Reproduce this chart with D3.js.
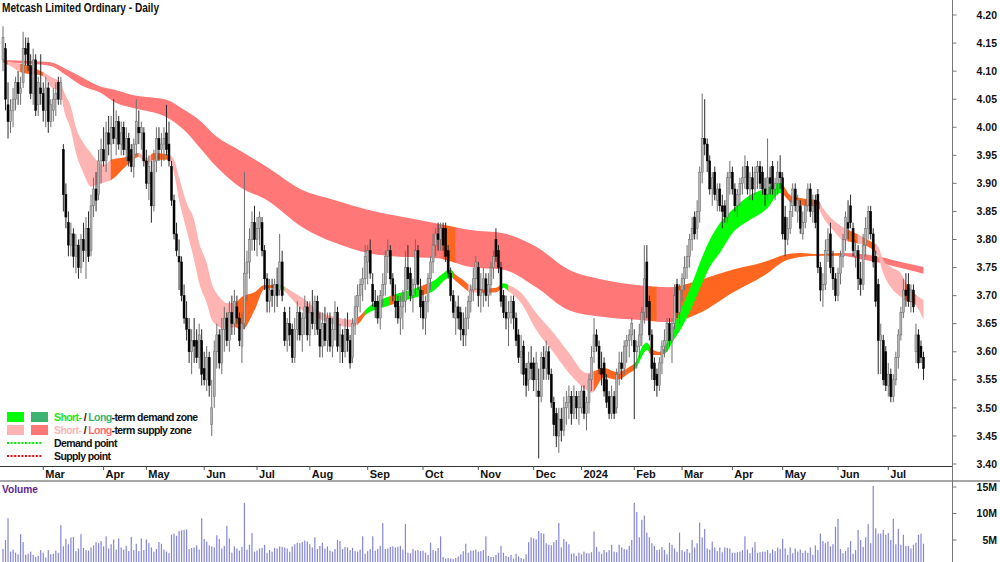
<!DOCTYPE html>
<html>
<head>
<meta charset="utf-8">
<script src="https://cdn.jsdelivr.net/npm/d3@7"></script>
<style>
  body { margin: 0; background: #fff; }
  svg { display: block; font-family: "Liberation Sans", Arial, sans-serif; font-weight: bold; }
</style>
</head>
<body>
<svg id="chart"></svg>
<script>
// prices in cents, one entry per trading day (Feb 2023 - Jul 2024)
const opens = [
  412,414,404,401,403,405,408,406,408,414, 415,411,406,412,404,407,406,403,407,401,
  403,405,408,405,396,388,383,379,381,377, 379,375,380,378,382,378,386,389,388,394,
  396,394,399,397,400,398,401,397,400,396, 398,396,393,397,400,399,399,394,390,392,
  386,394,398,396,397,399,397,393,387,381, 377,376,370,366,364,360,362,362,359,362,
  357,355,359,347,352,360,363,358,364,366, 362,367,365,368,366,361,365,374,376,380,
  383,380,382,383,378,373,369,371,370,372, 371,376,367,362,365,364,359,364,367,363,
  366,368,363,367,365,369,364,361,365,362, 366,361,364,367,361,363,360,364,362,359,
  365,368,370,372,373,376,378,372,369,369, 366,370,372,377,378,373,369,369,366,368,
  369,375,374,370,372,378,371,369,366,369, 373,376,379,381,380,382,382,378,374,370,
  366,368,367,364,363,366,369,371,373,375, 370,371,373,370,372,375,380,378,375,370,
  367,366,367,369,366,363,359,361,357,355, 358,358,355,353,352,359,357,360,356,351,
  349,345,348,346,350,351,352,349,352,350, 350,353,349,351,355,360,363,361,357,358,
  355,352,349,352,350,356,358,357,361,362, 363,362,360,361,363,367,376,369,363,358,
  356,354,358,361,362,365,362,365,372,367, 371,373,375,377,380,384,382,385,392,398,
  397,394,389,392,387,389,386,386,384,391, 392,389,386,388,390,391,393,389,391,389,
  392,393,392,389,388,391,393,389,390,392, 391,384,380,382,386,389,385,386,381,383,
  386,389,385,387,388,375,371,372,378,381, 375,373,370,374,377,380,383,386,382,377,
  378,373,372,379,382,385,381,377,372,362, 362,360,354,356,352,355,359,363,367,371,
  372,369,371,360,363,361,359
];
const highs = [
  418,415,408,405,407,409,410,409,417,416, 416,413,414,413,409,413,408,409,408,405,
  407,408,409,409,397,390,385,383,382,381, 380,381,383,384,385,388,391,392,396,398,
  400,401,402,402,405,403,402,401,401,400, 399,397,398,405,403,401,400,396,395,394,
  396,400,400,399,400,404,401,394,388,383, 380,377,372,369,366,364,366,364,365,364,
  360,361,360,355,362,365,364,366,368,367, 369,370,371,370,367,367,392,378,382,385,
  386,384,385,384,379,374,373,373,373,375, 381,378,368,366,368,365,366,369,368,367,
  370,369,369,371,370,370,367,367,368,367, 367,366,369,368,365,364,366,367,363,366,
  370,372,373,375,379,379,380,374,371,370, 371,374,378,380,379,374,372,370,370,371,
  378,379,375,373,380,379,373,371,370,374, 377,381,382,383,383,383,383,379,375,371,
  369,370,368,367,368,370,372,375,377,376, 374,375,374,374,376,378,382,379,376,371,
  370,369,370,370,367,364,363,362,358,360, 361,359,360,357,360,361,362,361,357,352,
  350,350,350,352,353,354,353,354,353,353, 354,354,352,356,361,366,364,362,360,359,
  356,353,354,353,357,360,360,362,363,364, 366,364,362,365,368,379,379,370,364,359,
  357,359,362,364,366,366,366,372,373,372, 374,377,379,381,384,385,387,393,406,405,
  398,395,392,393,390,390,388,387,392,394, 393,390,389,391,393,395,394,392,393,393,
  394,394,393,391,398,393,394,391,394,395, 392,386,384,387,390,390,388,387,385,387,
  390,390,388,388,389,376,374,380,382,383, 378,374,375,378,381,385,387,388,383,380,
  379,376,381,384,386,386,382,378,373,365, 363,361,358,357,356,360,364,368,373,374,
  374,372,372,365,364,362,360
];
const lows = [
  410,403,398,399,400,403,404,404,407,411, 410,405,404,402,402,404,401,400,399,400,
  401,402,404,404,385,382,377,377,375,374, 373,374,376,373,376,377,384,385,387,390,
  393,392,395,394,397,395,396,395,395,394, 393,392,391,395,397,396,393,389,387,383,
  385,392,394,393,394,395,393,386,380,377, 371,369,365,362,358,356,358,358,357,354,
  354,353,352,345,350,357,357,356,360,361, 360,363,363,365,361,358,364,369,373,378,
  378,377,379,377,371,367,367,368,367,368, 370,369,361,360,361,358,358,362,362,360,
  363,362,361,364,363,363,359,359,361,360, 360,359,362,360,358,358,359,360,357,358,
  363,366,367,369,371,372,373,368,366,365, 364,368,370,374,372,369,366,365,363,364,
  367,371,369,367,370,371,366,364,363,367, 371,374,377,378,378,378,376,373,369,366,
  363,364,362,361,361,364,367,369,371,368, 367,368,369,368,370,373,376,374,368,366,
  364,361,365,364,361,358,356,354,352,353, 355,353,352,341,351,355,355,355,350,345,
  343,342,344,345,347,348,347,348,348,347, 349,348,346,349,353,358,360,356,354,352,
  350,348,348,348,349,354,355,356,358,359, 361,348,357,359,361,365,366,362,355,353,
  352,353,356,359,360,361,358,364,366,365, 369,371,373,375,378,380,380,383,390,395,
  392,388,386,387,385,385,382,383,383,388, 388,385,384,386,388,389,388,387,387,388,
  389,389,388,386,387,388,388,387,388,389, 380,377,379,381,384,385,383,381,380,382,
  385,384,383,382,374,369,368,371,376,374, 371,369,369,372,375,378,380,382,377,375,
  371,370,371,377,380,380,375,368,356,356, 354,353,352,351,351,354,357,362,366,368,
  368,367,367,358,357,358,355
];
const closes = [
  416,405,401,403,405,408,406,407,414,413, 411,406,412,403,408,406,403,407,401,404,
  405,406,405,408,388,384,379,381,377,379, 375,380,378,382,377,386,389,387,394,396,
  394,399,397,400,398,401,397,399,396,398, 394,393,397,401,399,400,394,390,393,386,
  394,398,396,397,398,396,394,387,381,378, 376,370,366,364,360,362,361,359,363,356,
  355,359,354,350,360,363,358,364,366,362, 367,365,369,366,362,365,374,376,380,383,
  380,382,384,378,373,369,371,370,372,370, 376,370,362,365,363,359,364,367,363,366,
  368,363,367,365,369,364,361,365,362,366, 361,364,367,361,363,360,364,362,358,365,
  368,370,372,373,377,378,374,369,368,366, 370,372,377,378,373,370,368,366,368,369,
  375,373,370,372,378,372,368,366,369,373, 376,379,381,380,382,379,377,374,370,367,
  368,366,364,363,366,369,371,373,376,370, 371,373,370,372,375,377,377,375,369,367,
  366,367,369,366,362,359,360,356,354,358, 357,355,358,352,359,357,360,356,351,347,
  345,348,346,350,351,352,349,352,350,352, 353,349,351,355,359,363,361,357,356,353,
  351,349,352,349,356,358,357,361,362,363, 365,360,361,363,367,373,368,363,357,355,
  354,358,361,362,365,362,365,370,367,371, 373,375,377,380,382,381,385,392,398,397,
  394,389,391,388,389,386,385,384,391,392, 389,386,388,390,391,393,389,391,389,392,
  393,390,389,388,391,390,389,390,392,391, 381,380,382,385,389,386,387,382,383,386,
  389,385,386,383,375,371,372,378,380,375, 373,370,374,377,380,384,382,383,378,378,
  373,372,379,382,385,381,376,369,362,363, 355,354,356,352,355,359,363,367,371,370,
  369,371,368,363,358,359,357
];
// volume in millions of shares
const volumes = [
  3.3,5.0,9.1,2.8,3.2,2.6,2.3,6.1,4.6,2.2, 2.4,2.8,2.2,1.8,2.0,3.1,2.6,1.7,3.1,2.3,
  2.4,3.0,2.6,7.8,3.8,5.2,4.2,5.5,5.6,2.9, 3.4,6.1,3.5,3.1,3.0,3.6,4.0,4.6,4.4,4.8,
  3.8,5.7,3.4,4.2,5.1,3.2,5.3,3.6,3.2,3.9, 2.9,5.6,3.1,4.3,2.9,5.3,3.1,5.1,4.4,3.6,
  2.8,3.3,4.6,4.3,3.2,2.8,2.5,6.0,6.2,5.8, 6.7,6.8,6.9,7.0,3.3,3.5,3.6,4.0,3.2,9.1,
  5.2,4.7,4.0,3.8,3.6,5.9,5.2,3.4,3.9,7.7, 5.3,2.6,3.8,3.4,3.0,3.7,12.0,3.2,4.1,6.3,
  2.8,3.0,3.4,3.5,4.1,2.6,3.1,2.8,3.5,3.4, 3.8,3.7,3.6,3.4,2.8,3.8,4.2,4.5,4.4,4.6,
  4.9,4.7,4.2,3.6,5.5,3.3,3.9,4.5,3.4,3.8, 3.0,2.8,3.3,5.0,4.8,3.3,3.7,3.6,3.1,3.5,
  2.9,2.8,3.2,5.7,2.4,2.9,3.3,5.7,3.0,3.3, 3.9,8.2,3.3,3.4,3.7,3.8,3.6,3.7,3.9,3.2,
  8.0,2.6,2.5,3.3,3.0,3.1,2.9,3.0,2.6,2.2, 4.5,3.1,2.9,3.5,5.7,1.8,1.5,1.6,1.5,1.4,
  1.6,1.9,2.3,2.9,4.3,2.6,3.0,3.0,3.2,2.8, 2.9,3.1,5.7,2.0,1.8,1.8,2.2,2.6,3.9,2.6,
  2.0,1.8,2.2,1.5,2.4,1.9,1.6,1.4,2.3,4.6, 5.5,5.3,5.1,6.7,6.3,6.2,4.4,4.1,4.0,4.6,
  5.0,8.2,3.6,5.2,4.7,4.2,2.4,2.5,2.0,2.6, 2.3,2.8,2.5,2.5,2.7,6.6,3.7,2.8,2.4,3.1,
  2.7,3.1,4.1,2.8,2.7,4.1,3.6,3.3,3.2,3.9, 5.0,12.0,10.3,5.5,8.8,9.6,6.4,5.5,4.4,3.9,
  3.1,3.2,3.7,3.1,2.3,4.5,4.1,3.4,2.8,6.4, 3.1,2.8,3.3,2.6,5.0,3.6,4.4,8.3,5.5,7.1,
  3.4,3.2,4.7,3.6,2.9,3.6,2.7,3.6,3.5,3.4, 2.6,2.6,2.7,2.8,3.1,5.7,3.2,2.5,3.6,4.6,
  2.6,2.7,2.8,2.8,3.1,2.5,3.2,2.9,3.6,3.3, 5.2,3.4,2.2,3.6,2.5,3.4,2.8,3.2,2.6,3.0,
  2.6,3.6,2.2,4.0,3.1,6.2,4.8,4.4,4.7,3.8, 4.2,7.5,9.0,3.3,2.5,2.9,3.6,4.8,2.4,3.1,
  6.9,5.0,3.7,5.5,8.0,4.4,15.2,7.2,6.2,6.2, 6.9,6.0,6.3,5.0,9.0,4.2,7.1,4.1,6.0,3.9,
  3.9,3.4,4.1,4.5,6.0,6.2,4.3
];

// month labels and the trading-day index where each month starts
const monthLabels = ["Mar", "Apr", "May", "Jun", "Jul", "Aug", "Sep", "Oct", "Nov", "Dec",
  "2024", "Feb", "Mar", "Apr", "May", "Jun", "Jul"];
const monthIndex = [16, 40, 57, 80, 101, 122, 145, 167, 189, 211, 230, 251, 270, 290, 310, 332, 352];

const shortIdx = [
  0, 3, 7, 16, 19, 23, 24, 27, 29, 32,
  35, 37, 40, 43, 49, 54, 57, 60, 66, 68,
  70, 73, 76, 78, 81, 83, 86, 89, 92, 95,
  100, 104, 110, 114, 119, 125, 132, 139, 142, 144,
  152, 158, 165, 171, 178, 180, 183, 186, 190, 196,
  199, 201, 206, 212, 219, 225, 232, 234, 239, 244,
  249, 252, 254, 256, 258, 261, 264, 266, 270, 274,
  278, 281, 285, 290, 297, 304, 309, 313, 317, 324,
  326, 330, 334, 339, 344, 348, 350, 353, 357, 360,
  362, 366
];
const shortHi = [
  412.0, 411.6, 411.3, 409.8, 409.0, 407.9, 406.6, 403.6, 400.0, 397.2,
  395.4, 394.2, 393.3, 394.2, 394.7, 395.4, 394.5, 395.4, 395.1, 394.2,
  391.1, 386.5, 383.5, 379.4, 375.8, 372.2, 369.8, 368.7, 368.7, 369.8,
  370.6, 371.9, 371.9, 371.0, 369.6, 367.4, 366.2, 365.7, 366.4, 367.4,
  369.6, 370.5, 371.5, 372.6, 374.6, 373.7, 372.8, 371.7, 371.2, 371.4,
  372.2, 371.9, 370.5, 366.9, 363.3, 359.8, 356.2, 356.4, 357.1, 356.4,
  357.3, 358.5, 360.8, 361.6, 360.5, 360.0, 361.6, 363.9, 368.0, 372.2,
  376.9, 379.9, 382.9, 385.3, 387.9, 389.2, 390.1, 387.9, 387.4, 387.0,
  385.6, 383.5, 382.2, 381.1, 379.9, 378.7, 376.3, 375.1, 374.0, 371.4,
  370.5, 369.2
];
const shortLo = [
  411.6, 410.9, 409.8, 409.1, 407.2, 406.3, 403.6, 399.5, 395.4, 391.8,
  389.4, 389.7, 390.1, 390.6, 393.1, 394.7, 393.5, 394.2, 394.2, 391.8,
  387.0, 381.7, 376.3, 372.2, 368.7, 365.7, 364.4, 363.9, 364.4, 363.9,
  367.4, 371.2, 371.4, 369.8, 367.4, 366.0, 364.8, 364.4, 365.3, 366.5,
  368.0, 368.9, 369.8, 370.8, 373.3, 372.6, 371.5, 370.6, 370.5, 370.6,
  371.4, 370.8, 368.7, 363.9, 359.8, 356.2, 353.2, 352.7, 355.5, 355.0,
  356.2, 357.3, 359.1, 360.3, 359.4, 359.4, 360.0, 361.6, 364.4, 368.0,
  372.2, 375.1, 377.6, 381.1, 383.5, 385.6, 388.3, 386.7, 386.1, 385.8,
  384.0, 381.7, 379.9, 379.4, 378.7, 376.9, 374.0, 371.5, 369.8, 368.9,
  368.7, 365.7
];
// s = supply, d = demand, m = mixed
const shortZones = [
  [0, 2, "m"], [2, 7, "s"], [7, 16, "m"], [16, 43, "s"], [43, 54, "m"], [54, 59, "s"],
  [59, 66, "m"], [66, 92, "s"], [92, 109, "m"], [109, 112, "d"], [112, 141, "s"],
  [141, 144, "m"], [144, 154, "d"], [154, 156, "m"], [156, 166, "d"], [166, 169, "m"],
  [169, 179, "d"], [179, 185, "m"], [185, 189, "s"], [189, 198, "m"], [198, 201, "d"],
  [201, 235, "s"], [235, 251, "m"], [251, 257, "d"], [257, 263, "m"], [263, 310, "d"],
  [310, 325, "m"], [325, 336, "s"], [336, 340, "m"], [340, 342, "s"], [342, 347, "m"],
  [347, 359, "s"], [359, 363, "m"], [363, 366, "s"]
];

// long-term zone (cents)
const longIdx = [
  0, 11, 19, 25, 31, 39, 45, 52, 65, 72,
  78, 85, 94, 105, 119, 132, 145, 159, 172, 186,
  199, 212, 225, 239, 252, 265, 277, 290, 304, 310,
  317, 324, 333, 341, 349, 357, 366
];
const longHi = [
  412.0, 411.8, 411.6, 410.4, 409.0, 407.2, 406.6, 405.7, 404.9, 403.1,
  401.3, 398.3, 395.9, 392.9, 388.8, 387.0, 385.3, 384.0, 382.9, 381.7,
  381.1, 378.7, 374.6, 372.8, 371.9, 371.5, 372.8, 374.6, 376.2, 377.2,
  377.6, 377.4, 377.6, 377.4, 376.9, 376.0, 375.1
];
const longLo = [
  411.6, 411.3, 410.9, 409.3, 407.5, 406.1, 404.3, 403.4, 401.8, 399.5,
  396.5, 392.9, 389.4, 387.0, 382.2, 379.4, 377.6, 376.9, 376.7, 375.1,
  374.6, 371.5, 367.4, 366.2, 365.7, 365.3, 366.9, 370.5, 374.0, 376.0,
  376.9, 377.1, 377.1, 376.5, 375.8, 374.9, 373.9
];
const longZones = [
  [0, 175, "s"], [175, 180, "m"], [180, 257, "s"], [257, 260, "m"],
  [260, 267, "s"], [267, 333, "m"], [333, 366, "s"]
];

const priceTicks = d3.range(340, 421, 5);
const volumeTicks = [5, 10, 15];

const W = 1000, H = 562;
const AXIS_X = 952.5;
const shortColors = { s: "#ffb4b4", d: "#00ff00", m: "#ff661f" };
const longColors = { s: "#ff7777", d: "#3cb371", m: "#ff661f" };

const svg = d3.select("#chart").attr("width", W).attr("height", H);
const defs = svg.append("defs");

const x = d3.scaleLinear().domain([0, closes.length - 1]).range([3, 923.5]);
const y = d3.scaleLinear().domain([340, 420]).range([464, 15]);
const yVol = d3.scaleLinear().domain([0, 15]).range([566.5, 487]);

const plot = svg.append("g").attr("id", "plot");

// zones, coloured by state with vertical clip strips
function drawZone(idx, hi, lo, zones, colors, id) {
  const pts = idx.map((d, k) => ({ i: d, hi: hi[k], lo: lo[k] }));
  const area = d3.area()
    .x((d) => x(d.i))
    .y0((d) => y(d.lo))
    .y1((d) => y(d.hi))
    .curve(d3.curveMonotoneX);
  zones.forEach((z, k) => {
    const clipId = `${id}-${k}`;
    const x0 = z[0] === 0 ? 0 : x(z[0]) - 0.4;
    const x1 = z[1] === closes.length - 1 ? W : x(z[1]) + 0.4;
    defs.append("clipPath").attr("id", clipId)
      .append("rect").attr("x", x0).attr("y", 0).attr("width", x1 - x0).attr("height", H);
    plot.append("path").datum(pts)
      .attr("d", area)
      .attr("fill", colors[z[2]])
      .attr("clip-path", `url(#${clipId})`);
  });
}
drawZone(longIdx, longHi, longLo, longZones, longColors, "lz");
drawZone(shortIdx, shortHi, shortLo, shortZones, shortColors, "sz");

// candles
const candles = closes.map((c, i) => ({
  i, o: opens[i], h: highs[i], l: lows[i], c, up: c >= opens[i]
}));
const cg = plot.append("g").attr("id", "candles");
cg.selectAll("line")
  .data(candles)
  .join("line")
  .attr("x1", (d) => x(d.i)).attr("x2", (d) => x(d.i))
  .attr("y1", (d) => y(d.h)).attr("y2", (d) => y(d.l))
  .attr("stroke", (d) => (d.up ? "#6e6e6e" : "#2a2a2a"))
  .attr("stroke-width", 1);
cg.selectAll("rect")
  .data(candles)
  .join("rect")
  .attr("x", (d) => x(d.i) - 1)
  .attr("width", 2)
  .attr("y", (d) => y(Math.max(d.o, d.c)))
  .attr("height", (d) => Math.max(1, Math.abs(y(d.o) - y(d.c))))
  .attr("fill", (d) => (d.up ? "#b4b4b4" : "#000"))
  .attr("stroke", (d) => (d.up ? "#666" : "#000"))
  .attr("stroke-width", 0.5);

// volume bars
svg.append("g").attr("id", "volume")
  .selectAll("rect")
  .data(volumes)
  .join("rect")
  .attr("x", (d, i) => x(i) - 0.6)
  .attr("width", 1.2)
  .attr("y", (d) => yVol(d))
  .attr("height", (d) => yVol(0) - yVol(d))
  .attr("fill", "#8585d6");

// frame lines
svg.append("line").attr("x1", 0).attr("x2", AXIS_X).attr("y1", 466.5).attr("y2", 466.5)
  .attr("stroke", "#333").attr("stroke-width", 1);
svg.append("line").attr("x1", 0).attr("x2", W).attr("y1", 481).attr("y2", 481)
  .attr("stroke", "#a6a6a6").attr("stroke-width", 2);
svg.append("line").attr("x1", AXIS_X).attr("x2", AXIS_X).attr("y1", 0).attr("y2", H)
  .attr("stroke", "#777").attr("stroke-width", 1);

// price axis
const pa = svg.append("g").attr("id", "price-axis");
pa.selectAll("line").data(priceTicks).join("line")
  .attr("x1", AXIS_X).attr("x2", AXIS_X + 4)
  .attr("y1", (d) => y(d)).attr("y2", (d) => y(d))
  .attr("stroke", "#777");
pa.selectAll("text").data(priceTicks).join("text")
  .attr("x", 997).attr("y", (d) => y(d)).attr("dy", "0.35em")
  .attr("text-anchor", "end").attr("font-size", 10.5).attr("fill", "#111")
  .text((d) => (d / 100).toFixed(2));

// volume axis
const va = svg.append("g").attr("id", "volume-axis");
va.selectAll("line").data(volumeTicks).join("line")
  .attr("x1", AXIS_X).attr("x2", AXIS_X + 4)
  .attr("y1", (d) => yVol(d)).attr("y2", (d) => yVol(d))
  .attr("stroke", "#777");
va.selectAll("text").data(volumeTicks).join("text")
  .attr("x", 997).attr("y", (d) => yVol(d)).attr("dy", "0.35em")
  .attr("text-anchor", "end").attr("font-size", 10.5).attr("fill", "#111")
  .text((d) => `${d}M`);

// month axis
const ma = svg.append("g").attr("id", "month-axis");
ma.selectAll("line").data(monthIndex).join("line")
  .attr("x1", (d) => x(d)).attr("x2", (d) => x(d))
  .attr("y1", 466.5).attr("y2", 470)
  .attr("stroke", "#555");
ma.selectAll("text").data(monthIndex).join("text")
  .attr("x", (d) => x(d) + 2).attr("y", 478)
  .attr("font-size", 11).attr("fill", "#111")
  .text((d, k) => monthLabels[k]);

// title + volume label
svg.append("text").attr("x", 2).attr("y", 12)
  .attr("font-size", 12).attr("fill", "#111")
  .attr("textLength", 157).attr("lengthAdjust", "spacingAndGlyphs")
  .text("Metcash Limited Ordinary - Daily");
svg.append("text").attr("x", 2).attr("y", 493)
  .attr("font-size", 11).attr("fill", "#5b1f93")
  .attr("textLength", 36).attr("lengthAdjust", "spacingAndGlyphs")
  .text("Volume");

// legend
const lg = svg.append("g").attr("id", "legend");
lg.append("rect").attr("x", 7).attr("y", 412).attr("width", 17).attr("height", 10).attr("fill", shortColors.d);
lg.append("rect").attr("x", 31).attr("y", 412).attr("width", 17).attr("height", 10).attr("fill", longColors.d);
lg.append("rect").attr("x", 7).attr("y", 425).attr("width", 17).attr("height", 10).attr("fill", shortColors.s);
lg.append("rect").attr("x", 31).attr("y", 425).attr("width", 17).attr("height", 10).attr("fill", longColors.s);
lg.append("line").attr("x1", 7).attr("x2", 43).attr("y1", 443).attr("y2", 443)
  .attr("stroke", "#00ee00").attr("stroke-width", 2).attr("stroke-dasharray", "2,1.6");
lg.append("line").attr("x1", 7).attr("x2", 43).attr("y1", 456).attr("y2", 456)
  .attr("stroke", "#ff0000").attr("stroke-width", 2).attr("stroke-dasharray", "2,1.6");

// one text per row; tspans flow after each other, tight letter spacing
function legendRow(yPos, parts) {
  const t = lg.append("text").attr("x", 54).attr("y", yPos)
    .attr("font-size", 10.5).attr("letter-spacing", "-0.6px");
  parts.forEach(([s, col]) => t.append("tspan").attr("fill", col).text(s));
}
legendRow(421, [["Short-", "#19e619"], [" / ", "#111"], ["Long", "#3cb371"], ["-term demand zone", "#111"]]);
legendRow(434, [["Short-", "#ffb4b4"], [" / ", "#111"], ["Long", "#ff6b6b"], ["-term supply zone", "#111"]]);
legendRow(447, [["Demand point", "#111"]]);
legendRow(460, [["Supply point", "#111"]]);
</script>
</body>
</html>
